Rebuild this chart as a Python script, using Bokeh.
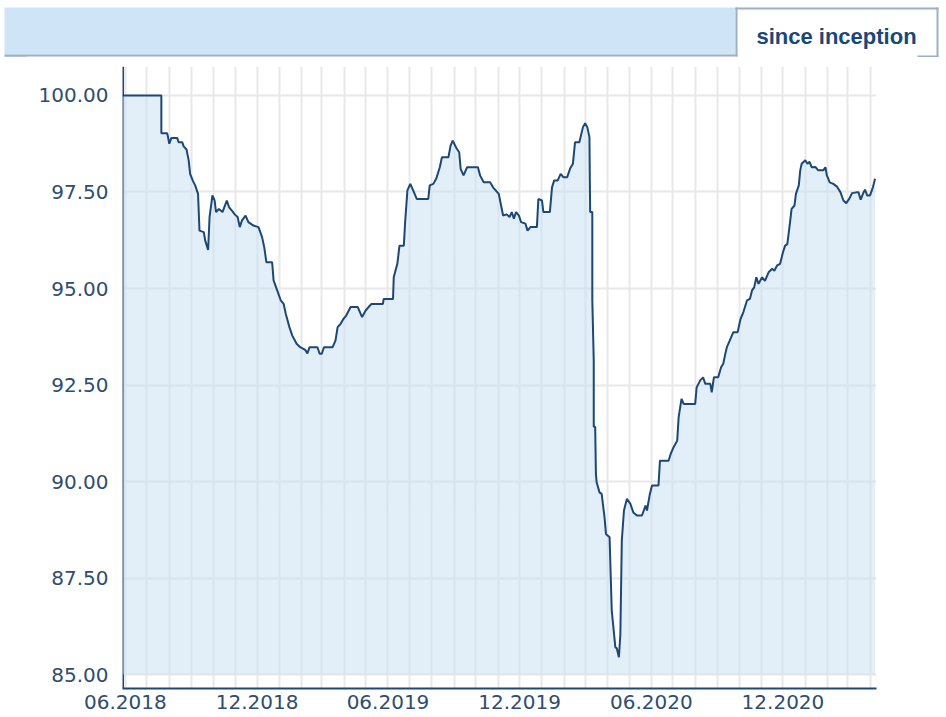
import pandas as pd
from bokeh.plotting import figure
from bokeh.models import (Range1d, FixedTicker, MonthsTicker, DatetimeTickFormatter,
                          NumeralTickFormatter, Span)
from bokeh.layouts import column
from bokeh.embed import file_html
from bokeh.resources import INLINE
from bokeh.core.properties import value

# ---------------- data ----------------
inception = "2018-05-28"          # first day shown
span_days = 1048                  # days covered by the x axis
days = [0, 54, 54, 62, 63, 65, 68, 76, 78, 83, 85, 89, 92, 94, 98, 101, 105, 107, 113, 115,
        119, 121, 125, 128, 130, 134, 139, 145, 148, 152, 156, 160, 163, 166, 171, 175, 182, 189,
        194, 197, 200, 208, 210, 215, 220, 224, 227, 232, 236, 242, 247, 254, 257, 260, 271, 274,
        277, 280, 292, 296, 299, 303, 307, 311, 317, 327, 333, 338, 342, 346, 362, 363, 376, 377,
        382, 385, 391, 393, 396, 400, 404, 409, 425, 427, 432, 436, 441, 444, 453, 456, 459, 464,
        468, 470, 474, 479, 494, 497, 502, 511, 515, 523, 529, 534, 538, 541, 544, 547, 551, 554,
        560, 563, 567, 576, 578, 583, 585, 594, 597, 600, 605, 609, 613, 618, 622, 626, 629, 635,
        640, 643, 646, 649, 650, 653, 653, 655, 655, 657, 658, 659, 663, 666, 670, 672, 677, 680,
        685, 687, 690, 692, 694, 697, 701, 706, 710, 715, 722, 727, 729, 733, 736, 745, 747, 759,
        762, 766, 771, 773, 777, 780, 796, 798, 803, 807, 810, 817, 819, 822, 828, 832, 835, 838,
        840, 844, 849, 855, 859, 863, 868, 872, 875, 878, 881, 884, 889, 893, 898, 903, 906, 910,
        914, 918, 921, 924, 927, 930, 934, 936, 940, 942, 944, 949, 952, 955, 958, 963, 967, 974,
        977, 979, 983, 988, 993, 998, 1002, 1006, 1010, 1014, 1020, 1023, 1026, 1030, 1032, 1035,
        1039, 1043, 1046]
nav = [100.00, 100.00, 99.02, 99.02, 98.95, 98.75, 98.90, 98.90, 98.79, 98.79, 98.68, 98.60,
       98.32, 97.97, 97.78, 97.67, 97.45, 96.50, 96.46, 96.24, 96.00, 96.85, 97.41, 97.28, 96.98,
       97.06, 96.98, 97.28, 97.11, 97.02, 96.92, 96.85, 96.59, 96.76, 96.89, 96.72, 96.63, 96.59,
       96.33, 96.07, 95.68, 95.68, 95.21, 94.95, 94.69, 94.60, 94.34, 94.00, 93.78, 93.57, 93.48,
       93.41, 93.32, 93.48, 93.48, 93.31, 93.31, 93.48, 93.48, 93.65, 94.00, 94.08, 94.21, 94.30,
       94.52, 94.52, 94.26, 94.43, 94.52, 94.60, 94.60, 94.73, 94.73, 95.29, 95.64, 96.11, 96.11,
       96.76, 97.54, 97.71, 97.54, 97.32, 97.32, 97.67, 97.71, 97.84, 98.14, 98.40, 98.40, 98.70,
       98.83, 98.64, 98.53, 98.10, 97.93, 98.14, 98.14, 97.93, 97.75, 97.75, 97.62, 97.45, 96.89,
       96.92, 96.85, 96.98, 96.81, 96.98, 96.89, 96.72, 96.68, 96.50, 96.59, 96.59, 97.32, 97.28,
       96.98, 96.98, 97.62, 97.80, 97.80, 97.97, 97.88, 97.88, 98.10, 98.23, 98.79, 98.79, 99.18,
       99.28, 99.18, 98.92, 96.98, 96.98, 94.69, 93.13, 91.42, 91.42, 90.20, 89.98, 89.72, 89.68,
       89.07, 88.64, 88.56, 86.66, 85.71, 85.68, 85.45, 86.05, 88.47, 89.25, 89.55, 89.42, 89.20,
       89.12, 89.12, 89.38, 89.25, 89.68, 89.90, 89.90, 90.54, 90.54, 90.72, 90.89, 91.06, 91.67,
       92.14, 92.01, 92.01, 92.44, 92.62, 92.70, 92.53, 92.53, 92.31, 92.70, 92.70, 92.96, 93.05,
       93.32, 93.48, 93.65, 93.87, 93.87, 94.21, 94.39, 94.69, 94.73, 94.95, 95.03, 95.29, 95.12,
       95.29, 95.20, 95.42, 95.51, 95.46, 95.60, 95.64, 95.94, 96.11, 96.15, 96.59, 97.06, 97.15,
       97.45, 97.67, 98.06, 98.23, 98.32, 98.23, 98.28, 98.14, 98.15, 98.06, 98.06, 98.14, 97.93,
       97.75, 97.71, 97.64, 97.49, 97.28, 97.21, 97.32, 97.47, 97.49, 97.49, 97.30, 97.49, 97.56,
       97.41, 97.41, 97.62, 97.84]
base = 85.0
y_ticks = [85.0, 87.5, 90.0, 92.5, 95.0, 97.5, 100.0]
y_limits = (84.64, 100.75)
label_months = [5, 11]            # June, December (0-based)
tab_label = "since inception"

# ---------------- styles ----------------
NAVY = "#1c4875"
LABEL = "#2e4d70"
GRID = "#e8e8e8"
FONT = "DejaVu Sans"
BAR = "#cfe5f7"
EDGE = "#9ab0c6"

start = pd.Timestamp(inception)
dates = start + pd.to_timedelta(days, unit="D")
baseline = [base] * len(nav)

# ---------------- header (tab bar); ranges equal page pixels ----------------
h = figure(width=946, height=57, x_range=Range1d(0, 946), y_range=Range1d(57, 0),
           toolbar_location=None, output_backend="svg", min_border=0,
           x_axis_location=None, y_axis_location=None, frame_align=False)
h.grid.visible = False
h.outline_line_color = None
h.background_fill_color = "white"
h.border_fill_color = "white"
h.quad(left=[4], right=[735], top=[7], bottom=[54], fill_color=BAR, line_color=None)
h.quad(left=[4, 4, 735, 735, 936, 917], right=[737, 26, 737, 938, 938, 938],
       top=[54, 56, 7, 7, 7, 55], bottom=[56, 57, 56, 9, 57, 57],
       fill_color=EDGE, line_color=None)
h.text(x=[836], y=[36], text=[tab_label], text_align="center", text_baseline="alphabetic",
       text_font=value("Liberation Sans"), text_font_style="bold", text_font_size="22px",
       text_color="#17487c")

# ---------------- chart ----------------
p = figure(width=946, height=660, x_axis_type="datetime",
           x_range=Range1d(start, start + pd.Timedelta(days=span_days)),
           y_range=Range1d(*y_limits),
           toolbar_location=None, output_backend="svg", frame_align=False,
           min_border_left=122, min_border_right=70, min_border_top=9, min_border_bottom=29)
p.outline_line_color = None
p.background_fill_color = "white"
p.border_fill_color = "white"

p.ygrid.ticker = FixedTicker(ticks=y_ticks)
p.xgrid.ticker = MonthsTicker(months=list(range(12)))
for g in (p.xgrid, p.ygrid):
    g.grid_line_color = GRID
    g.grid_line_width = 2

# y axis line drawn under the area fill
yline = Span(location=start + pd.Timedelta(hours=18), dimension="height", line_color=NAVY,
             line_width=2, level="underlay")
p.add_layout(yline)

p.varea(x=dates, y1=baseline, y2=nav, fill_color="#c5ddf1", fill_alpha=0.5)
p.line(x=dates, y=nav, line_color=NAVY, line_width=2)

p.yaxis.ticker = FixedTicker(ticks=y_ticks)
p.yaxis.formatter = NumeralTickFormatter(format="0.00")
p.yaxis.axis_line_color = None
p.yaxis.major_tick_line_color = None
p.yaxis.minor_tick_line_color = None
p.yaxis.major_tick_out = 0
p.yaxis.major_tick_in = 0
p.yaxis.major_label_standoff = 14

p.xaxis.ticker = MonthsTicker(months=label_months)
p.xaxis.formatter = DatetimeTickFormatter(days="%m.%Y", months="%m.%Y", years="%m.%Y")
p.xaxis.axis_line_color = NAVY
p.xaxis.axis_line_width = 2
p.xaxis.major_tick_line_color = None
p.xaxis.minor_tick_line_color = None
p.xaxis.major_tick_out = 0
p.xaxis.major_tick_in = 0
p.xaxis.major_label_standoff = 6

for ax in (p.xaxis, p.yaxis):
    ax.major_label_text_font = FONT
    ax.major_label_text_font_size = "20px"
    ax.major_label_text_color = LABEL

layout = column(h, p, spacing=0)
open("out.html", "w").write(file_html(layout, INLINE))
